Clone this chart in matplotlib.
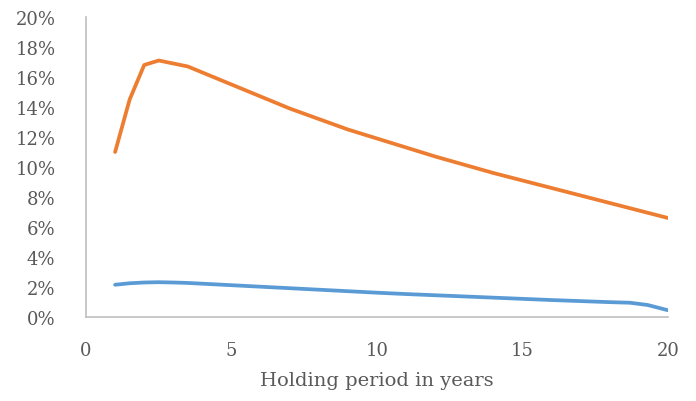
import matplotlib
matplotlib.use("Agg")
import matplotlib.pyplot as plt
from matplotlib.ticker import FuncFormatter

# holding period (years) and the two series, in percent
years = [1, 1.5, 2, 2.5, 3, 3.5, 4, 5, 6, 7, 8, 9, 10, 11, 12, 13, 14, 15, 16, 17, 18, 18.7, 19.3, 20]
orange = [11.0, 14.5, 16.8, 17.1, 16.9, 16.7, 16.3, 15.5, 14.7, 13.9, 13.2, 12.5, 11.9,
          11.3, 10.7, 10.15, 9.6, 9.1, 8.6, 8.1, 7.6, 7.25, 6.95, 6.6]
blue = [2.15, 2.25, 2.3, 2.32, 2.3, 2.27, 2.22, 2.12, 2.02, 1.92, 1.82, 1.72, 1.62,
        1.53, 1.45, 1.37, 1.29, 1.21, 1.13, 1.06, 0.99, 0.95, 0.8, 0.45]

plt.rcParams['font.family'] = ['DejaVu Serif']

fig = plt.figure(figsize=(6.96, 4.02), dpi=100)
ax = fig.add_axes([86/696, 84/402, 582/696, 300/402])

ax.plot(years, blue, color='#5B9BD5', lw=2.7, solid_capstyle='round', solid_joinstyle='round')
ax.plot(years, orange, color='#ED7D31', lw=2.7, solid_capstyle='round', solid_joinstyle='round')

ax.set_xlim(0, 20)
ax.set_ylim(0, 20)
ax.set_xticks([0, 5, 10, 15, 20])
ax.set_yticks(range(0, 21, 2))
ax.yaxis.set_major_formatter(FuncFormatter(lambda v, p: '%d%%' % v))

for s in ['top', 'right']:
    ax.spines[s].set_visible(False)
for s in ['left', 'bottom']:
    ax.spines[s].set_color('#BFBFBF')
    ax.spines[s].set_linewidth(1.2)

ax.tick_params(length=0, labelsize=13, colors='#595959')
ax.tick_params(axis='y', pad=22)
ax.tick_params(axis='x', pad=17)
ax.set_xlabel('Holding period in years', fontsize=14, color='#595959', labelpad=9)

fig.savefig('out.png', dpi=100)
